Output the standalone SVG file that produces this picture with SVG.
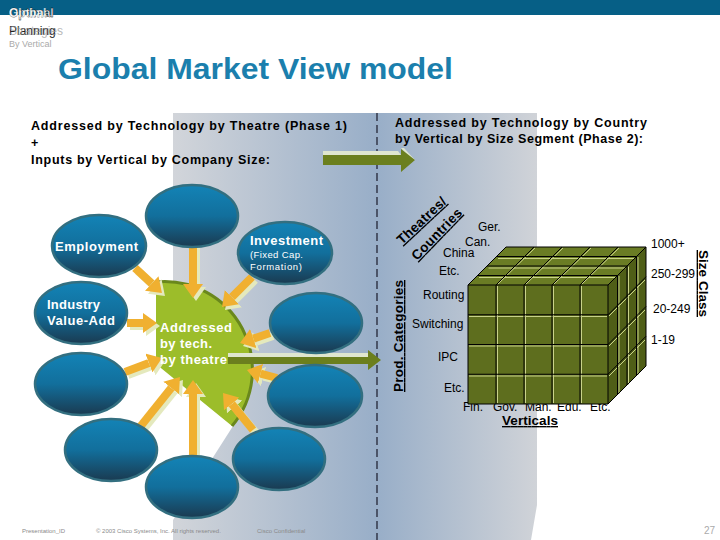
<svg xmlns="http://www.w3.org/2000/svg" width="720" height="540" viewBox="0 0 720 540">
<defs>
<linearGradient id="band" gradientUnits="userSpaceOnUse" x1="173" y1="0" x2="537" y2="0">
<stop offset="0" stop-color="#d2d5da"/>
<stop offset="0.56" stop-color="#98aec8"/>
<stop offset="1" stop-color="#d0d3d8"/>
</linearGradient>
<linearGradient id="ell" x1="0" y1="0" x2="0" y2="1">
<stop offset="0" stop-color="#1383b6"/>
<stop offset="0.5" stop-color="#126f9c"/>
<stop offset="1" stop-color="#1a3a50"/>
</linearGradient>
<marker id="oh" markerUnits="userSpaceOnUse" markerWidth="14" markerHeight="20" refX="0" refY="10" orient="auto">
<path d="M0,0 L14,10 L0,20 Z" fill="#f0b030"/>
</marker>
<marker id="ph" markerUnits="userSpaceOnUse" markerWidth="14" markerHeight="20" refX="0" refY="10" orient="auto">
<path d="M0,0 L14,10 L0,20 Z" fill="#e4e9bd"/>
</marker>
</defs>
<style>
text{font-family:"Liberation Sans",Arial,sans-serif}
.b{font-weight:bold}
.hd{font-size:12.5px;font-weight:bold;fill:#000}
.node ellipse{fill:url(#ell);stroke:#336f80;stroke-width:2.5}
.wt{fill:#fff;font-weight:bold;font-size:13px}
.ws{fill:#fff;font-size:9.5px}
.arr line.o{stroke:#f0b030;stroke-width:8;marker-end:url(#oh)}
.arr line.p{stroke:#e4e9bd;stroke-width:8;marker-end:url(#ph)}
.cl{font-size:12px;fill:#000}
.ax{font-size:13.5px;font-weight:bold;text-decoration:underline;fill:#000}
.g{stroke:#000;stroke-width:1;fill:none}
.hl{stroke:#c9d28a;stroke-width:1;fill:none}
.ft{font-size:6px;fill:#8a8a8a}
</style>

<rect width="720" height="540" fill="#fff"/>
<!-- header -->
<rect x="0" y="0" width="720" height="15" fill="#065f86"/>
<g id="header">
<text x="9" y="17" font-size="12" class="b" fill="#fff" stroke="#000" stroke-width="0.4">Optimal</text>
<text x="9" y="17" font-size="12" class="b" fill="#fff" opacity="0.7">Global</text>
<text x="9" y="35" font-size="12" fill="#222">Planning</text>
<text x="9" y="35" font-size="12" fill="#999" opacity="0.7">Strategies</text>
<text x="9" y="47" font-size="9" fill="#aaa">By Vertical</text>
</g>
<text id="title" x="58" y="79" font-size="29" class="b" fill="#1b7fad" textLength="395" lengthAdjust="spacingAndGlyphs">Global Market View model</text>

<!-- band -->
<polygon points="173,113 537,113 537,505 531,540 173,540 173,520 233,426 173,378" fill="url(#band)"/>
<line x1="377" y1="113" x2="377" y2="540" stroke="#1a1a2a" stroke-width="1.2" stroke-dasharray="8,4"/>

<g id="headings">
<text class="hd" x="31" y="130" textLength="316">Addressed by Technology by Theatre (Phase 1)</text>
<text class="hd" x="31" y="147">+</text>
<text class="hd" x="31" y="164" textLength="239">Inputs by Vertical by Company Size:</text>
<text class="hd" x="395" y="127" textLength="252">Addressed by Technology by Country</text>
<text class="hd" x="395" y="143" textLength="248">by Vertical by Size Segment (Phase 2):</text>
</g>

<!-- green center -->
<g id="center">
<path d="M156,282 A88 88 0 0 1 232,426 L156,364 Z" fill="#9cbd2a"/>
<path d="M156,282 A88 88 0 0 1 232,426" fill="none" stroke="#6a881c" stroke-width="3"/>
</g>

<!-- connectors -->
<g id="connectors">
<g class="arr">
<line class="p" x1="196" y1="248" x2="196" y2="287"/>
<line class="p" x1="138" y1="271" x2="154.7" y2="286.5"/>
<line class="p" x1="130" y1="326" x2="146" y2="326"/>
<line class="p" x1="128" y1="375" x2="151.9" y2="366"/>
<line class="p" x1="143" y1="430" x2="174.2" y2="390.9"/>
<line class="p" x1="196" y1="455" x2="196" y2="397"/>
<line class="p" x1="256" y1="433" x2="234.8" y2="406.9"/>
<line class="p" x1="280" y1="381" x2="263.5" y2="376.6"/>
<line class="p" x1="273" y1="336" x2="256.3" y2="341.6"/>
<line class="p" x1="255" y1="280" x2="234.9" y2="300.1"/>

<line class="o" x1="193" y1="245" x2="193" y2="284"/>
<line class="o" x1="135" y1="268" x2="151.7" y2="283.5"/>
<line class="o" x1="127" y1="323" x2="143" y2="323"/>
<line class="o" x1="125" y1="372" x2="148.9" y2="363"/>
<line class="o" x1="140" y1="427" x2="171.2" y2="387.9"/>
<line class="o" x1="193" y1="456" x2="193" y2="394"/>
<line class="o" x1="253" y1="430" x2="231.8" y2="403.9"/>
<line class="o" x1="277" y1="378" x2="260.5" y2="373.6"/>
<line class="o" x1="270" y1="333" x2="253.3" y2="338.6"/>
<line class="o" x1="252" y1="277" x2="231.9" y2="297.1"/>
</g>
<!-- green arrows -->
<polygon points="228,353 370,353 372,357 228,357" fill="#dfe6cf"/>
<polygon points="228,357 368,357 368,350 381,360 368,370 368,364 228,364" fill="#6b7f1e"/>
<polygon points="323,151 398,151 401,155 323,155" fill="#dfe6cf"/>
<polygon points="401,148 404,148 415,160 412,160" fill="#dfe6cf"/>
<polygon points="323,155 401,155 401,149 415,160 401,172 401,165 323,165" fill="#6b7f1e"/>
</g>

<!-- nodes -->
<g id="n-top" class="node"><ellipse cx="192" cy="216" rx="46" ry="31"/></g>
<g id="n-employment" class="node"><ellipse cx="99" cy="246" rx="47" ry="31"/>
<text class="wt" x="55" y="251" textLength="83">Employment</text></g>
<g id="n-industry" class="node"><ellipse cx="81" cy="313" rx="46" ry="31"/>
<text class="wt" x="47" y="309" textLength="53">Industry</text>
<text class="wt" x="47" y="325" textLength="68">Value-Add</text></g>
<g id="n-left2" class="node"><ellipse cx="81" cy="384" rx="46" ry="31"/></g>
<g id="n-left3" class="node"><ellipse cx="111" cy="450" rx="46" ry="31"/></g>
<g id="n-bottom" class="node"><ellipse cx="192" cy="487" rx="46" ry="31"/></g>
<g id="n-right3" class="node"><ellipse cx="279" cy="459" rx="46" ry="31"/></g>
<g id="n-right2" class="node"><ellipse cx="315" cy="396" rx="47" ry="31"/></g>
<g id="n-right1" class="node"><ellipse cx="316" cy="323" rx="46" ry="30"/></g>
<g id="n-investment" class="node"><ellipse cx="285" cy="253" rx="47" ry="31"/>
<text class="wt" x="250" y="245" textLength="73">Investment</text>
<text class="ws" x="250" y="258" textLength="53">(Fixed Cap.</text>
<text class="ws" x="250" y="270" textLength="52">Formation)</text></g>

<g id="center-label">
<text class="wt" x="160" y="332" textLength="72" fill="#f4f8e6">Addressed</text>
<text class="wt" x="160" y="348" textLength="52">by tech.</text>
<text class="wt" x="160" y="364" textLength="67">by theatre</text>
</g>

<!-- cube labels -->
<g id="cube-labels">
<text class="cl" x="478" y="231">Ger.</text>
<text class="cl" x="465" y="246">Can.</text>
<text class="cl" x="443" y="257">China</text>
<text class="cl" x="439" y="275">Etc.</text>
<text class="cl" x="423" y="299">Routing</text>
<text class="cl" x="412" y="328">Switching</text>
<text class="cl" x="438" y="361">IPC</text>
<text class="cl" x="444" y="392">Etc.</text>
<text class="cl" x="463" y="411">Fin.</text>
<text class="cl" x="493" y="411">Gov.</text>
<text class="cl" x="525" y="411">Man.</text>
<text class="cl" x="557" y="411">Edu.</text>
<text class="cl" x="590" y="411">Etc.</text>
<text class="cl" x="651" y="248">1000+</text>
<text class="cl" x="651" y="278">250-299</text>
<text class="cl" x="653" y="313">20-249</text>
<text class="cl" x="651" y="344">1-19</text>
<text class="ax" x="502" y="425" textLength="56">Verticals</text>
<text class="ax" transform="translate(699,250) rotate(90)" textLength="67">Size Class</text>
<text class="ax" transform="translate(403,392) rotate(-90)" textLength="112">Prod. Categories</text>
<text class="ax" transform="translate(402,245) rotate(-43)" textLength="62">Theatres/</text>
<text class="ax" transform="translate(417,261) rotate(-46)" textLength="66">Countries</text>
</g>

<!-- cube -->
<g id="cube">
<rect x="468" y="285" width="140" height="119" fill="#5e6e1e"/>
<polygon points="468,285 608,285 646,247 506,247" fill="#6a7c24"/>
<polygon points="608,285 646,247 646,366 608,404" fill="#4f5e17"/>
<path class="hl" d="M497.5,286 V403 M525.5,286 V403 M553.5,286 V403 M581.5,286 V403 M469,316.5 H607 M469,346 H607 M469,376 H607"/>
<path class="hl" d="M479,277.5 H616 M488.5,268 H625.5 M498,258.5 H635 M498,284 L535,248 M526,284 L563,248 M554,284 L591,248 M582,284 L619,248"/>
<path class="hl" d="M619,276 V394 M628.5,266.5 V384.5 M638,257 V375 M609,316 L645,280 M609,346 L645,310 M609,376 L645,340"/>
<path class="g" d="M496,285 V404 M524,285 V404 M552,285 V404 M580,285 V404 M468,314.75 H608 M468,344.5 H608 M468,374.25 H608"/>
<path class="g" d="M477.5,275.5 H617.5 M487,266 H627 M496.5,256.5 H636.5 M496,285 L534,247 M524,285 L562,247 M552,285 L590,247 M580,285 L618,247"/>
<path class="g" d="M617.5,275.5 V394.5 M627,266 V385 M636.5,256.5 V375.5 M608,314.75 L646,276.75 M608,344.5 L646,306.5 M608,374.25 L646,336.25"/>
<path class="g" d="M468,285 H608 V404 H468 Z M468,285 L506,247 H646 V366 L608,404 M608,285 L646,247"/>
</g>

<g id="footer">
<text class="ft" x="22" y="533">Presentation_ID</text>
<text class="ft" x="96" y="533">© 2003 Cisco Systems, Inc. All rights reserved.</text>
<text class="ft" x="257" y="533">Cisco Confidential</text>
<text x="715" y="534" font-size="10" fill="#aaa" text-anchor="end">27</text>
</g>
</svg>
